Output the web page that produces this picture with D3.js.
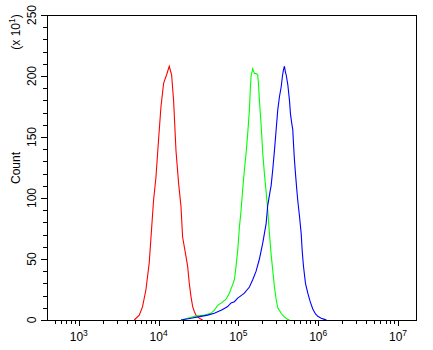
<!DOCTYPE html>
<html><head><meta charset="utf-8">
<script src="https://cdn.jsdelivr.net/npm/d3@7"></script>
<style>
html,body{margin:0;padding:0;background:#fff;}
text{font-family:"Liberation Sans",Arial,sans-serif;}
</style></head>
<body><svg id="c" width="433" height="350"></svg>
<script>
// ---- data (intensity, count in units of 10^1) ----
const redX = [4955,5730,6300,6950,7640,8160,8650,9270,10000,10720,11560,12600,13610,14560,15420,16520,17820,19090,20000,22080,23120,24270,25500,26740,28050,29440,32430,35650];
const redY = [0,4,11,25,47,74,98,117,148,175,194,201,208,201,180,139,112,93,68,52,44,30,19,11,7,4,1.4,0];
const greenX = [19100,23120,28050,37400,45400,50000,55000,61200,70100,77100,84700,89100,93500,98000,103000,108100,113200,118900,125000,130900,137400,141500,144300,151100,158800,166700,174600,178200,183400,192700,201800,211800,222600,233200,244900,257000,269200,283100,297200,311200,343600,369800,415900,436500];
const greenY = [0,1.4,3,4,5.5,8,12,14,17,22,29,33,44,57,76,90,107,123,137,153,172,191,200,206,202,202,201,194,180,160,137,120,105,90,71,54,41,27,17,10,5.5,3,0.5,0];
const blueX = [19100,25500,34000,41200,50000,60700,66700,73400,80900,89100,98000,108100,118900,137400,151100,166700,183400,201800,222600,233200,252000,257000,269200,283100,297200,311200,326900,343600,356500,366900,377600,388800,396900,415900,436500,449200,466600,480200,489800,504300,519100,539000,554600,582700,611900,629800,654000,692800,740600,793700,855000,925000,989000,1090000,1200000,1271000];
const blueY = [0,1.4,3,4,5.5,8,9.5,11,14,15,18,20,22,27,33,40,50,63,79,94,107,110,123,139,156,172,183,191,200,205,208,203,201,193,180,169,161,156,145,131,120,107,98,85,71,57,44,30,22,15,9,5,3,1.4,0.5,0];
const xDomain = [400, 1.68e7];
const yDomain = [0, 250];
const xMajor = [3,4,5,6,7];
const yMajor = [0,50,100,150,200,250];

const svg = d3.select("#c");
const L=47, T=15, R=416, B=320;
const x = d3.scaleLog().domain(xDomain).range([L,R]);
const y = d3.scaleLinear().domain(yDomain).range([B,T]);

// frame
svg.append("rect").attr("x",L).attr("y",T).attr("width",R-L).attr("height",B-T)
  .attr("fill","none").attr("stroke","#000").attr("stroke-width",1).attr("shape-rendering","crispEdges");

// x ticks
const minorX=[];
for(let e=2;e<=7;e++) for(let m=1;m<=9;m++){const v=m*Math.pow(10,e); if(v>xDomain[0]&&v<xDomain[1]) minorX.push({v,major:m===1});}
svg.append("g").selectAll("line").data(minorX).join("line")
  .attr("x1",d=>Math.round(x(d.v))+0.5).attr("x2",d=>Math.round(x(d.v))+0.5)
  .attr("y1",B).attr("y2",d=>B+(d.major?6:4)).attr("stroke","#000");
const xl = svg.append("g").selectAll("text").data(xMajor).join("text")
  .attr("x",d=>x(Math.pow(10,d))).attr("y",341).attr("text-anchor","middle")
  .attr("font-size",12).attr("fill","#000");
xl.append("tspan").text("10");
xl.append("tspan").attr("dy",-5).attr("font-size",8.5).text(d=>d);

// y ticks
const yt = d3.range(0,251,10);
svg.append("g").selectAll("line").data(yt).join("line")
  .attr("y1",d=>Math.round(y(d))+0.5).attr("y2",d=>Math.round(y(d))+0.5)
  .attr("x1",L).attr("x2",d=>L-(d%50===0?6:4)).attr("stroke","#000");
svg.append("g").selectAll("text").data(yMajor).join("text")
  .attr("transform",d=>`translate(36,${y(d)}) rotate(-90)`)
  .attr("text-anchor","middle").attr("font-size",12).attr("fill","#000").text(d=>d);

// axis titles
svg.append("text").attr("transform","translate(20,168) rotate(-90)")
  .attr("text-anchor","middle").attr("font-size",12).text("Count");
const sc = svg.append("text").attr("transform","translate(20,32) rotate(-90)")
  .attr("text-anchor","middle").attr("font-size",12);
sc.append("tspan").text("(x 10");
sc.append("tspan").attr("dy",-5).attr("font-size",8.5).text("1");
sc.append("tspan").attr("dy",5).text(")");

// curves
const line = d3.line().x(d=>x(d[0])).y(d=>y(d[1]));
const series = [[redX,redY,"#ff0000"],[greenX,greenY,"#00ff00"],[blueX,blueY,"#0000ff"]];
series.forEach(([xs,ys,c])=>{
  svg.append("path").datum(xs.map((v,i)=>[v,ys[i]])).attr("d",line)
    .attr("fill","none").attr("stroke",c).attr("stroke-width",1.1);
});
</script></body></html>
